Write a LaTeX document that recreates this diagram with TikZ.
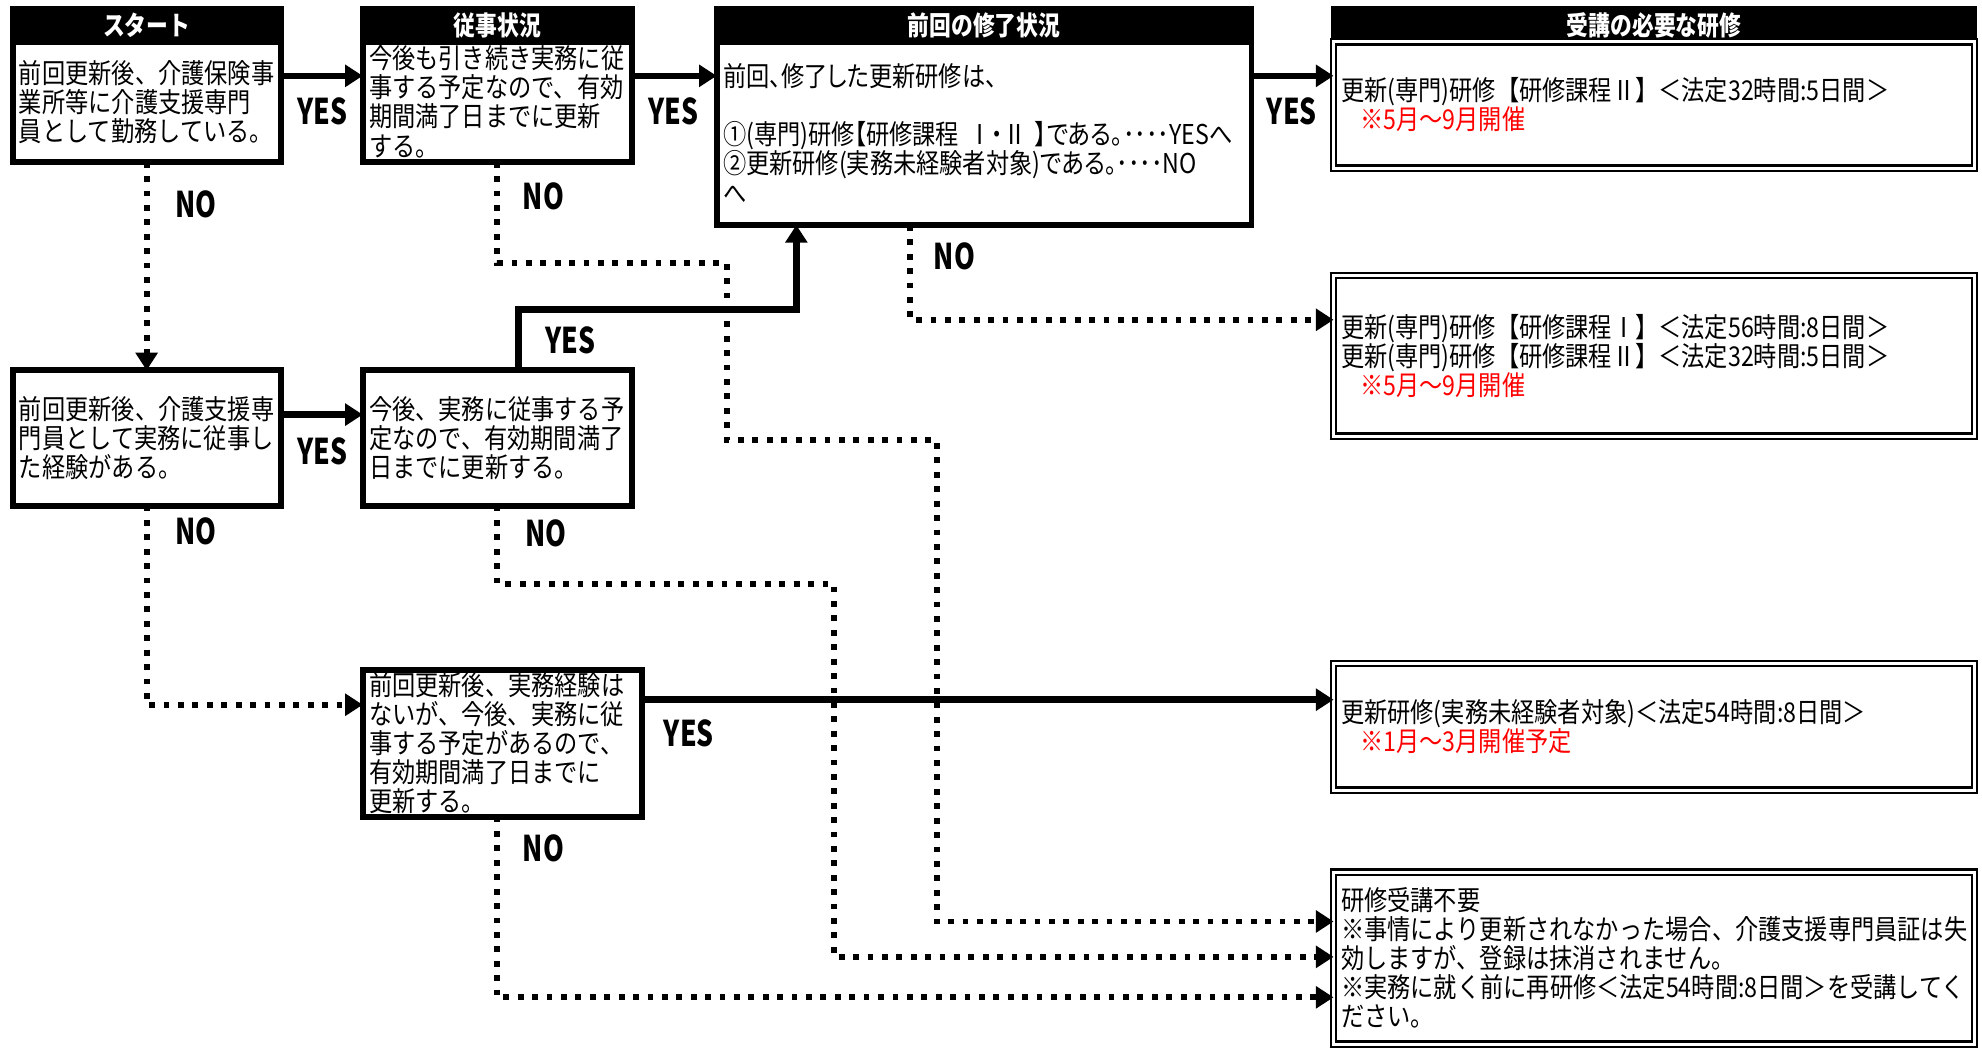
\documentclass[tikz,border=0pt]{standalone}
\usepackage{fontspec}
\setmainfont[FakeStretch=0.85]{Noto Sans CJK JP}
\newfontfamily\headfont[FakeStretch=0.82]{Noto Sans CJK JP}
\newfontfamily\ynfont[FakeStretch=0.75]{Noto Sans CJK JP}
\usepackage{xcolor}
\definecolor{notered}{RGB}{255,0,0}
\usetikzlibrary{positioning,arrows.meta}

\begin{document}
\begin{tikzpicture}[node distance = 0pt, every node/.style={outer sep = 0pt},
	head/.style={rectangle, draw = black, fill = black, line width = 2.3pt, text = white,
				minimum height = 13pt, inner sep = 0pt, font = \headfont\bfseries\fontsize{10.5pt}{11pt}\selectfont},
	body/.style={rectangle, draw = black, fill = white, line width = 2.3pt, align = left,
				inner xsep = 2.5pt, inner ysep = 1pt, font = \fontsize{10.8pt}{11.5pt}\selectfont},
	result/.style={rectangle, draw = black, fill = white, double, line width = 0.9pt,
				double distance = 1.2pt, align = left, inner xsep = 3pt, inner ysep = 1pt,
				text width = 247.5pt, font = \fontsize{10.8pt}{11.5pt}\selectfont},
	yn/.style={inner sep = 0pt, font = \ynfont\bfseries\fontsize{14pt}{14pt}\selectfont},
	yesline/.style={line width = 2.6pt, -{Triangle[length=7pt,width=8.5pt]}},
	noline/.style={line width = 2.3pt, dash pattern = on 2.3pt off 3.4pt, -{Triangle[length=7pt,width=8.5pt]}}]
		\useasboundingbox (0,0) rectangle (784pt,-415pt);
		\node (hdA) [head, minimum width = 106pt, anchor = north west] at (5pt,-3.5pt) {スタート};
		\node (hdB) [head, minimum width = 106.5pt, right = 32.5pt of hdA] {従事状況};
		\node (hdC) [head, minimum width = 211.5pt, right = 33.5pt of hdB] {前回の修了状況};
		\node (hdD) [head, minimum width = 253.5pt, right = 32.5pt of hdC] {受講の必要な研修};
		\node (A) [body, text width = 101pt, minimum height = 47.5pt, below = 0pt of hdA] {前回更新後、介護保険事\\業所等に介護支援専門\\員として勤務している。};
		\node (B) [body, text width = 101.5pt, minimum height = 47.5pt, below = 0pt of hdB] {今後も引き続き実務に従\\事する予定なので、有効\\期間満了日までに更新\\する。};
		\node (C) [body, text width = 206.5pt, minimum height = 72.5pt, below = 0pt of hdC] {\addfontfeatures{RawFeature=+palt}前回、修了した更新研修は、\\[11.5pt]①(専門)研修【研修課程 Ⅰ・Ⅱ 】である。････YESへ\\②更新研修(実務未経験者対象)である。････NO\\へ};
		\node (D) [result, minimum height = 50pt, below = 0pt of hdD] {更新(専門)研修【研修課程Ⅱ】＜法定32時間:5日間＞\\{\color{notered}\hspace*{0.7em}※5月～9月開催}};
		\node (E) [result, minimum height = 63.5pt, below = 42.5pt of D] {更新(専門)研修【研修課程Ⅰ】＜法定56時間:8日間＞\\更新(専門)研修【研修課程Ⅱ】＜法定32時間:5日間＞\\{\color{notered}\hspace*{0.7em}※5月～9月開催}};
		\node (I) [result, minimum height = 50pt, below = 90pt of E] {更新研修(実務未経験者対象)＜法定54時間:8日間＞\\{\color{notered}\hspace*{0.7em}※1月～3月開催予定}};
		\node (J) [result, minimum height = 68pt, below = 32.5pt of I] {研修受講不要\\※事情により更新されなかった場合、介護支援専門員証は失\\効しますが、登録は抹消されません。\\※実務に就く前に再研修＜法定54時間:8日間＞を受講してく\\ださい。};
		\node (F) [body, text width = 101pt, minimum height = 53.5pt, below = 82.5pt of A] {前回更新後、介護支援専\\門員として実務に従事し\\た経験がある。};
		\node (G) [body, text width = 101.5pt, minimum height = 53.5pt, right = 32.5pt of F] {今後、実務に従事する予\\定なので、有効期間満了\\日までに更新する。};
		\node (H) [body, text width = 105.5pt, minimum height = 57.5pt, below = 65pt of G.south west, anchor = north west] {前回更新後、実務経験は\\ないが、今後、実務に従\\事する予定があるので、\\有効期間満了日までに\\更新する。};

		\coordinate (topY) at ([yshift=10.25pt]A.east);
		\coordinate (hOut) at ([yshift=17.25pt]H.east);
		\draw[yesline] (topY) -- (topY -| B.west);
		\draw[yesline] (topY -| B.east) -- (topY -| C.west);
		\draw[yesline] (topY -| C.east) -- (topY -| D.west);
		\draw[yesline] ([yshift=9.25pt]F.east) -- ([yshift=9.25pt]G.west);
		\draw[yesline] ([xshift=8.25pt]G.north) -- ++(0,24pt) -| ([xshift=-74.25pt]C.south);
		\draw[yesline] (hOut) -- (hOut -| I.west);
		\draw[noline] (A.south) -- (F.north);
		\draw[noline] (F.south) |- ([yshift=15.25pt]H.west);
		\draw[noline] ([xshift=-29.25pt]C.south) |- ([yshift=14.25pt]E.west);
		\draw[noline] (B.south) -- ++(0,-40pt) -- ++(90.75pt,0) -- ++(0,-70pt) -- ++(83pt,0) |- ([yshift=14.5pt]J.west);
		\draw[noline] (G.south) -- ++(0,-31pt) -- ++(133.25pt,0) |- ([yshift=0.5pt]J.west);
		\draw[noline] ([xshift=-2.25pt]H.south) |- ([yshift=-15.5pt]J.west);

		\node (yesAB) [yn] at ([xshift=16.5pt,yshift=-3.75pt]A.east) {YES};
		\node (yesBC) [yn] at ([xshift=16.5pt,yshift=-3.75pt]B.east) {YES};
		\node (yesCD) [yn] at ([xshift=16pt,yshift=8.75pt]C.east) {YES};
		\node (yesFG) [yn] at ([xshift=16.5pt,yshift=-5.25pt]F.east) {YES};
		\node (yesG) [yn] at ([xshift=28.75pt,yshift=12pt]G.north) {YES};
		\node (yesH) [yn] at ([xshift=18.5pt,yshift=3.75pt]H.east) {YES};
		\node (noA) [yn] at ([xshift=19.5pt,yshift=-17pt]A.south) {NO};
		\node (noB) [yn] at ([xshift=18.25pt,yshift=-13.5pt]B.south) {NO};
		\node (noC) [yn] at ([xshift=-11.75pt,yshift=-12.5pt]C.south) {NO};
		\node (noF) [yn] at ([xshift=19.5pt,yshift=-10pt]F.south) {NO};
		\node (noG) [yn] at ([xshift=19.25pt,yshift=-11pt]G.south) {NO};
		\node (noH) [yn] at ([xshift=16.25pt,yshift=-12.5pt]H.south) {NO};
	\end{tikzpicture}
\end{document}
